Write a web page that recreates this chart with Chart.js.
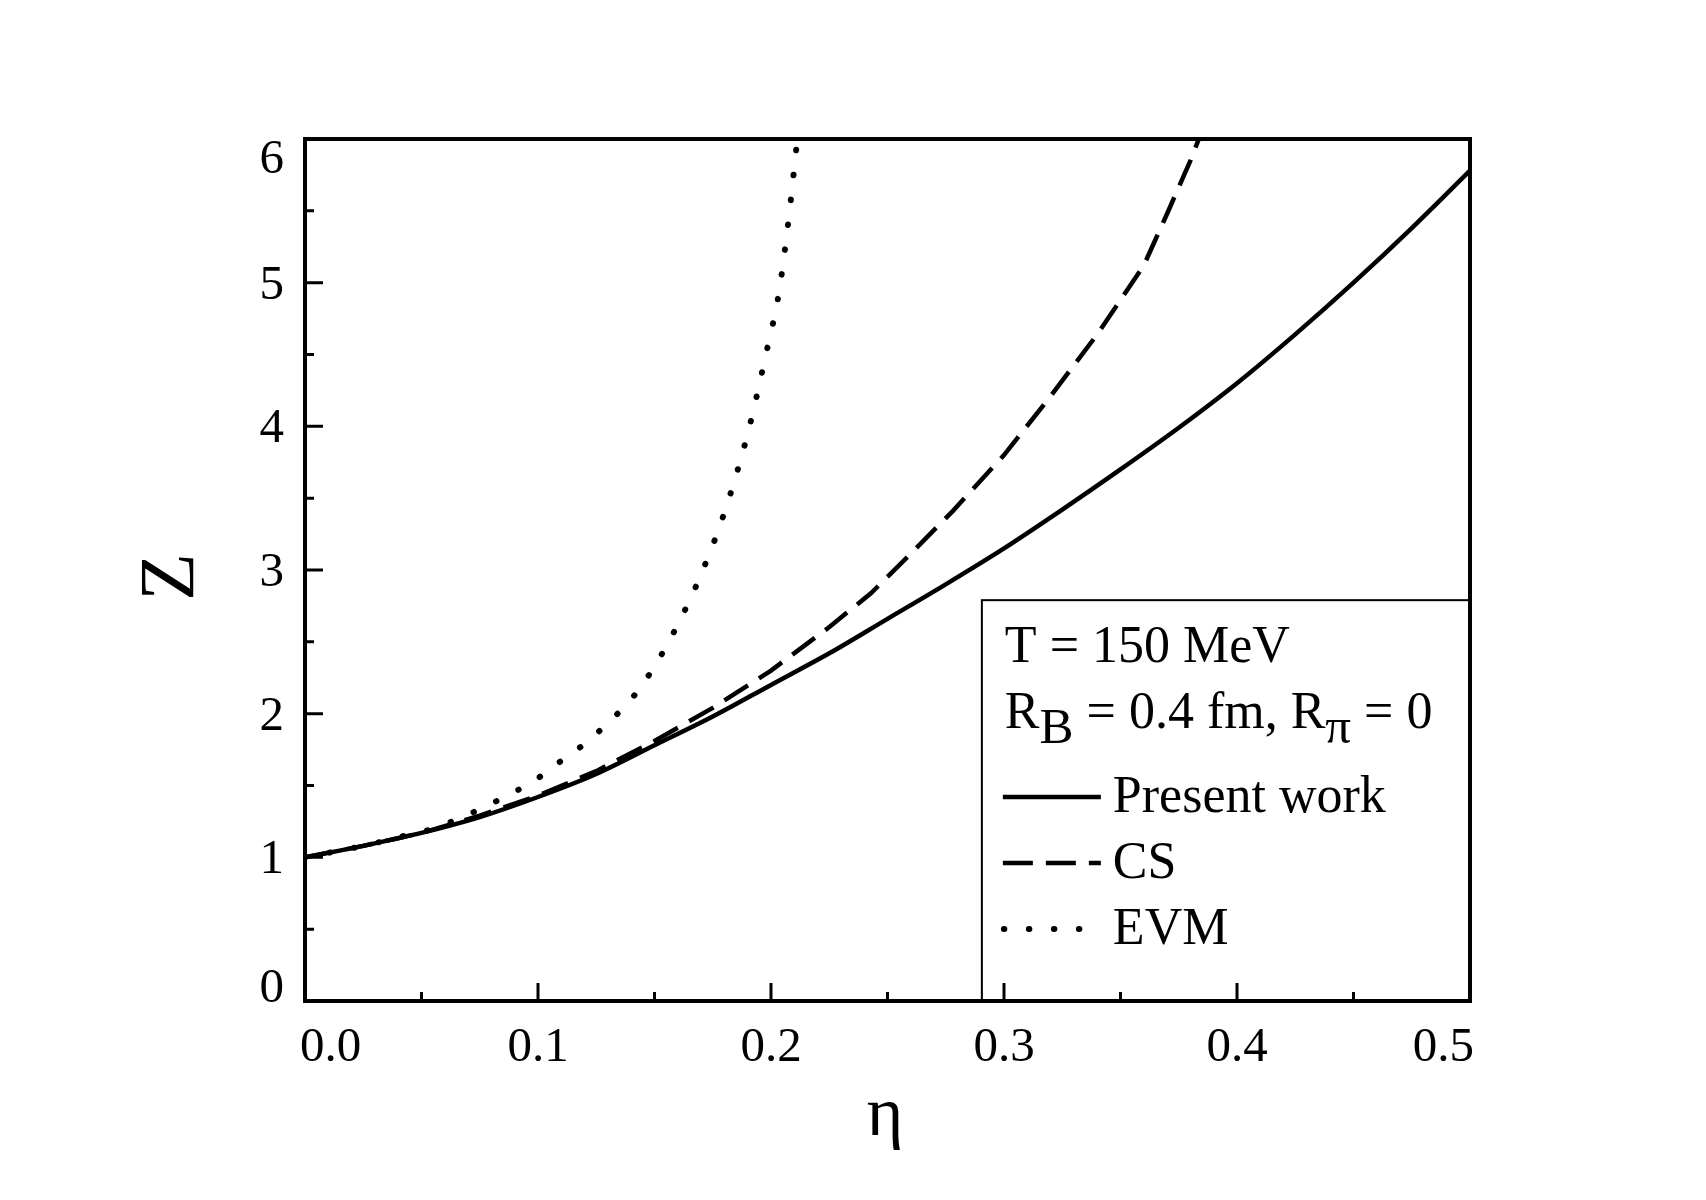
<!DOCTYPE html>
<html>
<head>
<meta charset="utf-8">
<script src="https://cdn.jsdelivr.net/npm/chart.js@4.4.1/dist/chart.umd.min.js"></script>
<style>
  html, body { margin: 0; padding: 0; background: #ffffff; }
  #wrap { width: 1706px; height: 1200px; position: relative; }
</style>
</head>
<body>
<div id="wrap"><canvas id="c" width="1706" height="1200"></canvas></div>
<script>
// ---- data ----
const etaPresent = [0, 0.025, 0.05, 0.075, 0.1, 0.125, 0.15, 0.175, 0.2, 0.225, 0.25, 0.275, 0.3, 0.325, 0.35, 0.375, 0.4, 0.425, 0.45, 0.475, 0.5];
const zPresent   = [1.00, 1.08, 1.17, 1.28, 1.42, 1.58, 1.78, 1.98, 2.20, 2.42, 2.66, 2.90, 3.15, 3.42, 3.70, 3.99, 4.30, 4.64, 5.00, 5.38, 5.78];

const etaCS = [0, 0.025, 0.05, 0.075, 0.1, 0.125, 0.15, 0.175, 0.2, 0.224, 0.243, 0.261, 0.278, 0.3, 0.32, 0.34, 0.36, 0.37, 0.38, 0.386];
const zCS   = [1.00, 1.08, 1.17, 1.29, 1.43, 1.60, 1.81, 2.04, 2.30, 2.59, 2.84, 3.13, 3.41, 3.80, 4.21, 4.64, 5.12, 5.48, 5.85, 6.10];

const etaEVM = [0, 0.025, 0.044, 0.055, 0.066, 0.077, 0.088, 0.099, 0.109, 0.12, 0.131, 0.141, 0.15, 0.16, 0.17, 0.18, 0.19, 0.1985, 0.2034, 0.2077, 0.211, 0.2125];
const zEVM   = [1.00, 1.08, 1.155, 1.20, 1.27, 1.35, 1.44, 1.54, 1.66, 1.79, 1.95, 2.12, 2.33, 2.62, 2.97, 3.40, 3.95, 4.55, 4.93, 5.46, 5.95, 6.15];

const xTickLabels = ['0.0', '0.1', '0.2', '0.3', '0.4', '0.5'];
const yTickLabels = ['0', '1', '2', '3', '4', '5', '6'];
const seriesNames = ['Present work', 'CS', 'EVM'];
const infoLine1 = 'T = 150 MeV';
const xTitle = 'η';
const yTitle = 'Z';

const toXY = (xs, ys) => xs.map((x, i) => ({ x: x, y: ys[i] }));
const SERIF = "'Liberation Serif', 'DejaVu Serif', serif";

const decorPlugin = {
  id: 'decor',
  afterDatasetsDraw(chart) {
    const ctx = chart.ctx;
    const a = chart.chartArea;
    const xs = chart.scales.x, ys = chart.scales.y;
    ctx.save();
    // legend box
    const lbLeft = xs.getPixelForValue(0.2905);
    const lbTop = ys.getPixelForValue(2.79);
    ctx.fillStyle = '#fff';
    ctx.fillRect(lbLeft, lbTop, a.right - lbLeft, a.bottom - lbTop);
    ctx.strokeStyle = '#000';
    ctx.lineWidth = 2;
    ctx.strokeRect(lbLeft, lbTop, a.right - lbLeft, a.bottom - lbTop);

    // legend text
    ctx.fillStyle = '#000';
    ctx.textAlign = 'left';
    ctx.textBaseline = 'alphabetic';
    const f = '52px ' + SERIF;
    const fs = '51px ' + SERIF;
    const tx = lbLeft + 23;
    ctx.font = f;
    ctx.fillText(infoLine1, tx, 662);
    // R_B = 0.4 fm, R_pi = 0
    let x = tx;
    const yb = 728;
    const parts = [['R', f, 0], ['B', fs, 15], [' = 0.4 fm, R', f, 0], ['π', fs, 15], [' = 0', f, 0]];
    parts.forEach(p => {
      ctx.font = p[1];
      ctx.fillText(p[0], x, yb + p[2]);
      x += ctx.measureText(p[0]).width;
    });
    // sample lines
    const sx0 = lbLeft + 21, sx1 = lbLeft + 119;
    const rows = [797, 863, 929];
    ctx.lineWidth = 4.5;
    ctx.strokeStyle = '#000';
    ctx.setLineDash([]);
    ctx.lineCap = 'butt';
    ctx.beginPath(); ctx.moveTo(sx0, rows[0]); ctx.lineTo(sx1, rows[0]); ctx.stroke();
    ctx.setLineDash([30, 13]);
    ctx.beginPath(); ctx.moveTo(sx0, rows[1]); ctx.lineTo(sx1, rows[1]); ctx.stroke();
    ctx.setLineDash([0.5, 24.5]);
    ctx.lineCap = 'round';
    ctx.lineWidth = 6;
    ctx.beginPath(); ctx.moveTo(sx0 + 1, rows[2]); ctx.lineTo(sx1, rows[2]); ctx.stroke();
    ctx.setLineDash([]);
    ctx.lineCap = 'butt';
    ctx.font = f;
    seriesNames.forEach((n, i) => ctx.fillText(n, lbLeft + 131, rows[i] + 15));

    // frame
    ctx.lineWidth = 4;
    ctx.strokeStyle = '#000';
    ctx.strokeRect(a.left, a.top, a.right - a.left, a.bottom - a.top);

    // ticks (inward)
    ctx.lineWidth = 3;
    ctx.beginPath();
    for (let k = 1; k < 10; k++) {
      const px = xs.getPixelForValue(k * 0.05);
      const len = (k % 2 === 0) ? 18 : 9;
      ctx.moveTo(px, a.bottom); ctx.lineTo(px, a.bottom - len);
    }
    for (let k = 1; k < 12; k++) {
      const py = ys.getPixelForValue(k * 0.5);
      const len = (k % 2 === 0) ? 18 : 9;
      ctx.moveTo(a.left, py); ctx.lineTo(a.left + len, py);
    }
    ctx.stroke();

    // tick labels
    ctx.font = '49px ' + SERIF;
    ctx.fillStyle = '#000';
    xTickLabels.forEach((t, i) => {
      const px = xs.getPixelForValue(i * 0.1);
      if (i === 0) { ctx.textAlign = 'left'; ctx.fillText(t, px - 5, a.bottom + 60); }
      else if (i === xTickLabels.length - 1) { ctx.textAlign = 'right'; ctx.fillText(t, px + 4, a.bottom + 60); }
      else { ctx.textAlign = 'center'; ctx.fillText(t, px, a.bottom + 60); }
    });
    ctx.textAlign = 'right';
    yTickLabels.forEach((t, i) => {
      const py = ys.getPixelForValue(i);
      let base;
      if (i === 0) base = py + 1;
      else if (i === yTickLabels.length - 1) base = py + 34;
      else base = py + 16;
      ctx.fillText(t, a.left - 21, base);
    });

    // axis titles
    ctx.textAlign = 'center';
    ctx.font = '70px ' + SERIF;
    ctx.fillText(xTitle, xs.getPixelForValue(0.249), 1135);
    ctx.save();
    ctx.translate(171, 577);
    ctx.rotate(-Math.PI / 2);
    ctx.font = '78px ' + SERIF;
    ctx.textBaseline = 'middle';
    ctx.fillText(yTitle, 0, 2);
    ctx.restore();

    ctx.restore();
  }
};

new Chart(document.getElementById('c'), {
  type: 'line',
  data: {
    datasets: [
      { label: seriesNames[0], data: toXY(etaPresent, zPresent), borderColor: '#000', borderWidth: 4.5,
        pointRadius: 0, cubicInterpolationMode: 'monotone', fill: false, clip: 0 },
      { label: seriesNames[1], data: toXY(etaCS, zCS), borderColor: '#000', borderWidth: 4.5,
        borderDash: [28, 13], pointRadius: 0, tension: 0, fill: false, clip: 0 },
      { label: seriesNames[2], data: toXY(etaEVM, zEVM), borderColor: '#000', borderWidth: 6,
        borderDash: [0.5, 24.5], borderCapStyle: 'round', pointRadius: 0, cubicInterpolationMode: 'monotone',
        fill: false, clip: 0 }
    ]
  },
  options: {
    responsive: false,
    animation: false,
    devicePixelRatio: 1,
    layout: { padding: { left: 305, top: 139, right: 236, bottom: 199 } },
    plugins: { legend: { display: false }, tooltip: { enabled: false }, title: { display: false } },
    scales: {
      x: { type: 'linear', min: 0, max: 0.5, display: false },
      y: { type: 'linear', min: 0, max: 6, display: false }
    }
  },
  plugins: [decorPlugin]
});
</script>
</body>
</html>
